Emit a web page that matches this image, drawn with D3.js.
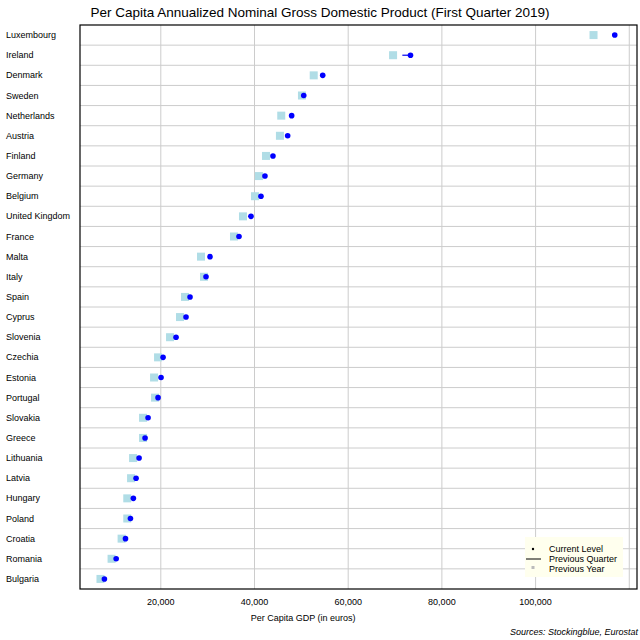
<!DOCTYPE html>
<html><head><meta charset="utf-8">
<script src="https://cdn.jsdelivr.net/npm/d3@7"></script>
<style>body{margin:0;background:#fff}text{font-family:"Liberation Sans",Arial,sans-serif}</style>
</head><body><div id="chart"></div>
<script>
const countries = ["Luxembourg","Ireland","Denmark","Sweden","Netherlands","Austria","Finland","Germany","Belgium","United Kingdom","France","Malta","Italy","Spain","Cyprus","Slovenia","Czechia","Estonia","Portugal","Slovakia","Greece","Lithuania","Latvia","Hungary","Poland","Croatia","Romania","Bulgaria"];
const current = [116900,73300,54560,50510,47930,47080,43940,42230,41380,39250,36690,30500,29650,26240,25380,23250,20480,20050,19410,17280,16640,15360,14720,14140,13520,12460,10470,7960];
const prevQuarter = [116900,71560,54300,50510,47350,47080,43940,42230,41380,38600,36690,30500,29650,26240,25380,23250,20480,20050,19410,17280,16640,15360,14720,14140,13520,12460,10470,7960];
const prevYear = [112370,69580,52640,50130,45710,45430,42450,40950,40100,37540,35620,28580,29220,25170,24100,21970,19410,18560,18770,16210,16210,14080,13650,12840,12840,11630,9490,7120];
const xTicks = [20000,40000,60000,80000,100000,120000];

const W = 640, H = 640;
const margin = {top: 25, right: 3, bottom: 51, left: 80};
const width = W - margin.left - margin.right;
const height = H - margin.top - margin.bottom;

const svg = d3.select("#chart").append("svg").attr("width", W).attr("height", H);

svg.append("text").attr("x", W / 2).attr("y", 17).attr("text-anchor", "middle")
  .style("font-size", "13.5px").text("Per Capita Annualized Nominal Gross Domestic Product (First Quarter 2019)");

const g = svg.append("g").attr("transform", `translate(${margin.left},${margin.top})`);

const x = d3.scaleLinear().domain([2750, 121650]).range([0, width]);
const y = d3.scaleBand().domain(countries).range([0, height]);

// vertical grid
g.selectAll(".vg").data(xTicks).join("line")
  .attr("x1", d => x(d)).attr("x2", d => x(d)).attr("y1", 0).attr("y2", height)
  .attr("stroke", "#cccccc");
// horizontal grid between rows
g.selectAll(".hg").data(countries.slice(1)).join("line")
  .attr("x1", 0).attr("x2", width).attr("y1", d => y(d)).attr("y2", d => y(d))
  .attr("stroke", "#cccccc");

// x axis labels
g.selectAll(".xl").data(xTicks.slice(0, 5)).join("text")
  .attr("x", d => x(d)).attr("y", height + 16).attr("text-anchor", "middle")
  .style("font-size", "9px").text(d => d3.format(",")(d));
g.append("text").attr("x", x(60000) - 45).attr("y", height + 32).attr("text-anchor", "middle")
  .style("font-size", "9px").text("Per Capita GDP (in euros)");
svg.append("text").attr("x", W - 2).attr("y", H - 5).attr("text-anchor", "end")
  .style("font-size", "9px").style("font-style", "italic").text("Sources: Stockingblue, Eurostat");

// country labels
svg.selectAll(".cl").data(countries).join("text")
  .attr("x", 6).attr("y", d => margin.top + y(d) + y.bandwidth() / 2 + 3)
  .style("font-size", "9px").text(d => d);

const data = countries.map((c, i) => ({c, cur: current[i], pq: prevQuarter[i], py: prevYear[i]}));
const cy = d => y(d.c) + y.bandwidth() / 2;

g.selectAll(".py").data(data).join("rect")
  .attr("x", d => x(d.py) - 4).attr("y", d => cy(d) - 4).attr("width", 8).attr("height", 8)
  .attr("fill", "#b0dde6");
g.selectAll(".pq").data(data).join("line")
  .attr("x1", d => x(d.pq)).attr("x2", d => x(d.cur)).attr("y1", cy).attr("y2", cy)
  .attr("stroke", "#0000ee").attr("stroke-width", 1.2);
g.selectAll(".cur").data(data).join("circle")
  .attr("cx", d => x(d.cur)).attr("cy", cy).attr("r", 2.8).attr("fill", "#0000ff");

// frame
g.append("rect").attr("width", width).attr("height", height).attr("fill", "none").attr("stroke", "#000").attr("stroke-width", 1.2);

// legend
const lg = svg.append("g").attr("transform", "translate(525,537)");
lg.append("rect").attr("width", 98).attr("height", 40).attr("fill", "#ffffee");
lg.append("circle").attr("cx", 8).attr("cy", 12).attr("r", 1.2).attr("fill", "#000");
lg.append("line").attr("x1", 1).attr("x2", 16).attr("y1", 22).attr("y2", 22).attr("stroke", "#000");
lg.append("rect").attr("x", 6.5).attr("y", 29).attr("width", 3).attr("height", 3).attr("fill", "#bbb");
["Current Level", "Previous Quarter", "Previous Year"].forEach((t, i) =>
  lg.append("text").attr("x", 24).attr("y", 15 + i * 10).style("font-size", "9px").text(t));
</script></body></html>
